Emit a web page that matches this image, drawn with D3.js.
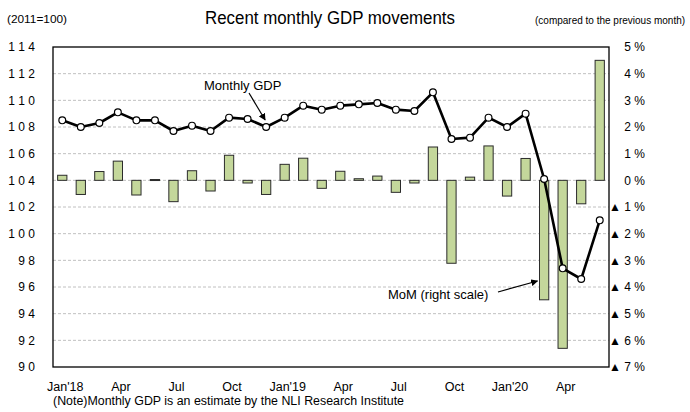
<!DOCTYPE html>
<html>
<head>
<meta charset="utf-8">
<script src="https://cdn.jsdelivr.net/npm/d3@7"></script>
<style>
    body { margin: 0; background: #fff; }
    svg text { font-family: "Liberation Sans", Arial, sans-serif; fill: #000; }
</style>
</head>
<body>
<svg class="gdpChart" width="690" height="412"></svg>
<script>
//Monthly GDP index (left scale) and month on month change (right scale), Jan 2018 - Jun 2020
var months = ["2018-01", "2018-02", "2018-03", "2018-04", "2018-05", "2018-06",
              "2018-07", "2018-08", "2018-09", "2018-10", "2018-11", "2018-12",
              "2019-01", "2019-02", "2019-03", "2019-04", "2019-05", "2019-06",
              "2019-07", "2019-08", "2019-09", "2019-10", "2019-11", "2019-12",
              "2020-01", "2020-02", "2020-03", "2020-04", "2020-05", "2020-06"];
var gdpLevel = [108.5, 108.0, 108.3, 109.1, 108.5, 108.5,
                107.7, 108.1, 107.7, 108.7, 108.6, 108.0,
                108.7, 109.6, 109.3, 109.6, 109.7, 109.8,
                109.3, 109.2, 110.6, 107.1, 107.2, 108.7,
                108.0, 109.0, 104.1, 97.4, 96.6, 101.0];
var momChange = [0.19, -0.53, 0.33, 0.72, -0.55, 0.03,
                 -0.80, 0.36, -0.40, 0.94, -0.10, -0.53,
                 0.60, 0.83, -0.30, 0.34, 0.06, 0.16,
                 -0.45, -0.10, 1.25, -3.11, 0.12, 1.29,
                 -0.59, 0.82, -4.48, -6.30, -0.88, 4.50];
var xTickMonths = ["2018-01", "2018-04", "2018-07", "2018-10", "2019-01", "2019-04",
                   "2019-07", "2019-10", "2020-01", "2020-04"];
var xTickLabels = ["Jan'18", "Apr", "Jul", "Oct", "Jan'19", "Apr", "Jul", "Oct", "Jan'20", "Apr"];
var leftTicks = [90, 92, 94, 96, 98, 100, 102, 104, 106, 108, 110, 112, 114];
var rightTicks = [5, 4, 3, 2, 1, 0, -1, -2, -3, -4, -5, -6, -7];

var svg = d3.select("svg.gdpChart"),
    plot = {left: 53, right: 609, top: 47, bottom: 367};

var x = d3.scaleBand().domain(months).range([plot.left, plot.right]);
var yLeft = d3.scaleLinear().domain([90, 114]).range([plot.bottom, plot.top]);
var yRight = d3.scaleLinear().domain([-7, 5]).range([plot.bottom, plot.top]);

//Colors
var barFill = "#c4d79b",
    barStroke = "#2b2b2b",
    gridColor = "#c0c0c0";

var defs = svg.append("defs");
defs.append("marker")
    .attr("id", "arrowHead")
    .attr("viewBox", "0 0 10 10")
    .attr("refX", 9)
    .attr("refY", 5)
    .attr("markerWidth", 7)
    .attr("markerHeight", 7)
    .attr("markerUnits", "userSpaceOnUse")
    .attr("orient", "auto")
    .append("path")
    .attr("d", "M0,0 L10,5 L0,10 z")
    .attr("fill", "#000");

//Gridlines (dashed, every left tick)
svg.append("g")
    .selectAll("line")
    .data(leftTicks.filter(function(d) { return d > 90 && d < 114; }))
    .enter()
    .append("line")
    .attr("x1", plot.left)
    .attr("x2", plot.right)
    .attr("y1", function(d) { return yLeft(d); })
    .attr("y2", function(d) { return yLeft(d); })
    .attr("stroke", gridColor)
    .attr("stroke-width", 1)
    .attr("stroke-dasharray", "3,2");

//MoM bars on the right scale
var barW = x.bandwidth() * 0.5;
svg.append("g")
    .selectAll("rect")
    .data(momChange)
    .enter()
    .append("rect")
    .attr("x", function(d, i) { return x(months[i]) + (x.bandwidth() - barW) / 2; })
    .attr("y", function(d) { return yRight(Math.max(0, d)); })
    .attr("width", barW)
    .attr("height", function(d) { return Math.max(1, Math.abs(yRight(d) - yRight(0))); })
    .attr("fill", barFill)
    .attr("stroke", barStroke)
    .attr("stroke-width", 1);

//Monthly GDP line
var line = d3.line()
    .x(function(d, i) { return x(months[i]) + x.bandwidth() / 2; })
    .y(function(d) { return yLeft(d); });

svg.append("path")
    .attr("d", line(gdpLevel))
    .attr("fill", "none")
    .attr("stroke", "#000")
    .attr("stroke-width", 2.6)
    .attr("stroke-linejoin", "round");

svg.append("g")
    .selectAll("circle")
    .data(gdpLevel)
    .enter()
    .append("circle")
    .attr("cx", function(d, i) { return x(months[i]) + x.bandwidth() / 2; })
    .attr("cy", function(d) { return yLeft(d); })
    .attr("r", 3.4)
    .attr("fill", "#fff")
    .attr("stroke", "#000")
    .attr("stroke-width", 1.2);

//Plot frame
svg.append("rect")
    .attr("x", plot.left)
    .attr("y", plot.top)
    .attr("width", plot.right - plot.left)
    .attr("height", plot.bottom - plot.top)
    .attr("fill", "none")
    .attr("stroke", "#000")
    .attr("stroke-width", 1.3);

//Left axis labels (spaced digits like the original)
svg.append("g")
    .selectAll("text")
    .data(leftTicks)
    .enter()
    .append("text")
    .attr("x", 35)
    .attr("y", function(d) { return yLeft(d); })
    .attr("dy", "0.36em")
    .attr("text-anchor", "end")
    .attr("font-size", "12px")
    .text(function(d) { return String(d).split("").join(" "); });

//Right axis labels, negatives shown with a triangle
svg.append("g")
    .selectAll("text")
    .data(rightTicks)
    .enter()
    .append("text")
    .attr("x", 645)
    .attr("y", function(d) { return yRight(d); })
    .attr("dy", "0.36em")
    .attr("text-anchor", "end")
    .attr("font-size", "12px")
    .text(function(d) { return d < 0 ? "\u25B2 " + (-d) + " %" : d + " %"; });

//X labels
svg.append("g")
    .selectAll("text")
    .data(xTickMonths)
    .enter()
    .append("text")
    .attr("x", function(d) { return x(d) + x.bandwidth() / 2 + 3; })
    .attr("y", 391)
    .attr("text-anchor", "middle")
    .attr("font-size", "12.5px")
    .text(function(d, i) { return xTickLabels[i]; });

//Titles and notes (original uses a slightly condensed face)
svg.append("text")
    .attr("x", 330)
    .attr("y", 24)
    .attr("text-anchor", "middle")
    .attr("font-size", "18px")
    .attr("textLength", 250)
    .attr("lengthAdjust", "spacingAndGlyphs")
    .text("Recent monthly GDP movements");

svg.append("text")
    .attr("x", 7)
    .attr("y", 23)
    .attr("font-size", "11px")
    .attr("textLength", 60)
    .attr("lengthAdjust", "spacingAndGlyphs")
    .text("(2011=100)");

svg.append("text")
    .attr("x", 535)
    .attr("y", 24)
    .attr("font-size", "10px")
    .text("(compared to the previous month)");

svg.append("text")
    .attr("x", 53)
    .attr("y", 405)
    .attr("font-size", "12.5px")
    .attr("textLength", 351)
    .attr("lengthAdjust", "spacingAndGlyphs")
    .text("(Note)Monthly GDP is an estimate by the NLI Research Institute");

//Annotations
var gdpIdx = months.indexOf("2018-12"),
    momIdx = months.indexOf("2020-03");

svg.append("text")
    .attr("x", 204)
    .attr("y", 90)
    .attr("font-size", "13px")
    .text("Monthly GDP");
svg.append("line")
    .attr("x1", 249)
    .attr("y1", 93)
    .attr("x2", x(months[gdpIdx]) + x.bandwidth() / 2 - 1)
    .attr("y2", yLeft(gdpLevel[gdpIdx]) - 7)
    .attr("stroke", "#000")
    .attr("stroke-width", 1.2)
    .attr("marker-end", "url(#arrowHead)");

svg.append("text")
    .attr("x", 388)
    .attr("y", 299)
    .attr("font-size", "13px")
    .text("MoM (right scale)");
svg.append("line")
    .attr("x1", 498)
    .attr("y1", 292)
    .attr("x2", x(months[momIdx]) + (x.bandwidth() - barW) / 2 - 2)
    .attr("y2", 281)
    .attr("stroke", "#000")
    .attr("stroke-width", 1.2)
    .attr("marker-end", "url(#arrowHead)");
</script>
</body>
</html>
